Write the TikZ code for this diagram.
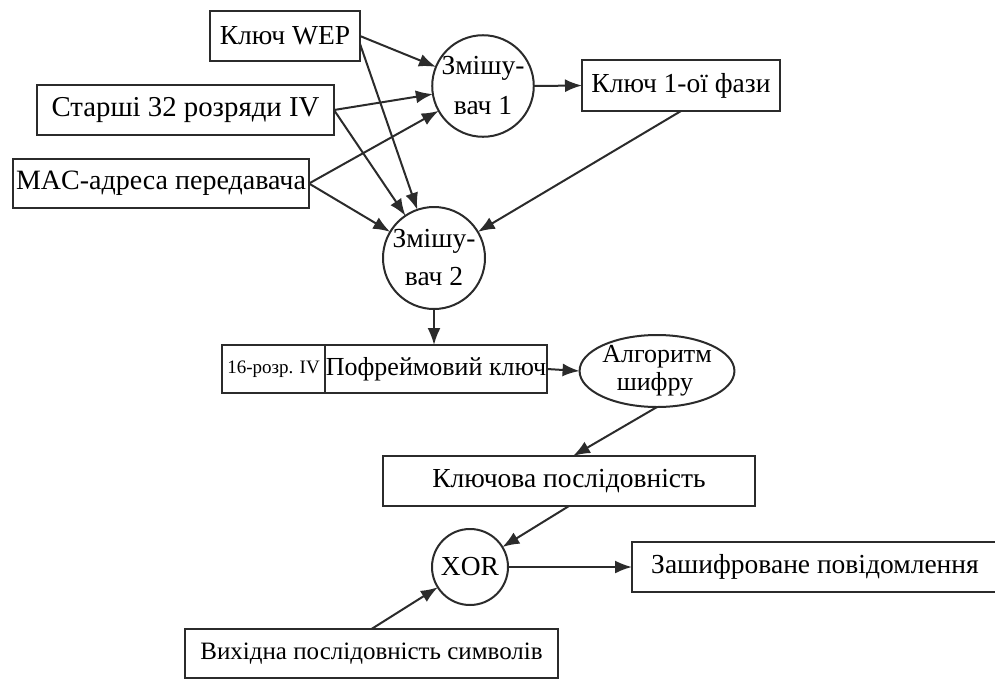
\documentclass[tikz,border=0pt]{standalone}
\usepackage{fontspec}
\setmainfont{Liberation Serif}
\usetikzlibrary{arrows.meta,shapes.geometric}
\definecolor{ink}{HTML}{2B2B2B}
\begin{document}
\begin{tikzpicture}[x=1pt,y=-1pt,
  every node/.style={font=\fontsize{27.5}{36}\selectfont, text=black},
  box/.style={draw=ink, line width=2pt, rectangle, inner sep=0pt, outer sep=0pt, align=center},
  mixer/.style={draw=ink, line width=2pt, circle, inner sep=0pt, outer sep=0pt, align=center},
  link/.style={draw=ink, line width=2pt, -{Latex[length=17pt,width=13pt]}},
]
\useasboundingbox (0,0) rectangle (995,680);

% inputs
\node[box, minimum width=150pt, minimum height=50pt] (wep) at (285,36) {Ключ WEP};
\node[box, minimum width=297pt, minimum height=50pt, font=\fontsize{28.8}{34}\selectfont] (msb) at (185.5,110) {Старші 32 розряди IV};
\node[box, minimum width=296pt, minimum height=49pt, font=\fontsize{28}{34}\selectfont] (mac) at (161,183.5) {MAC-адреса передавача};

% key mixing
\node[mixer, minimum size=100pt] (c1) at (483,86) {Змішу-\\[4pt]вач 1};
\node[box, minimum width=198pt, minimum height=51pt] (k1) at (681,85.5) {Ключ 1-ої фази};
\node[mixer, minimum size=102pt] (c2) at (434,258) {Змішу-\\[2pt]вач 2};

% per-frame key
\node[box, minimum width=103pt, minimum height=48pt, font=\fontsize{19}{22}\selectfont] (iv16) at (273.5,369) {16-розр. IV};
\node[box, minimum width=222pt, minimum height=48pt, font=\fontsize{26}{30}\selectfont] (frame) at (436,369) {Пофреймовий ключ};
\node[draw=ink, line width=2pt, ellipse, inner sep=0pt, outer sep=0pt, align=center,
      minimum width=150pt, minimum height=72pt, font=\fontsize{26}{28}\selectfont] (alg) at (657,371) {Алгоритм\\шифру\hspace*{4pt}};

% keystream and XOR
\node[box, minimum width=372pt, minimum height=50pt] (kseq) at (569,481) {Ключова послідовність};
\node[mixer, minimum size=76pt] (xor) at (470,567) {XOR};
\node[box, minimum width=366pt, minimum height=50pt] (enc) at (815,567) {Зашифроване повідомлення};
\node[box, minimum width=373pt, minimum height=49pt, font=\fontsize{25}{30}\selectfont] (src) at (371.5,653.5) {Вихідна послідовність символів};

% connectors
\draw[link] (wep.east) -- (c1);
\draw[link] (wep.-6) -- (c2);
\draw[link] (msb.east) -- (c1);
\draw[link] (msb.east) -- (c2);
\draw[link] (mac.east) -- (c1);
\draw[link] (mac.east) -- (c2);
\draw[link] (c1.east) -- (k1.west);
\draw[link] (k1.south) -- (c2);
\draw[link] (c2.south) -- (c2.south |- frame.north);
\draw[link] (frame.east) -- (alg.west);
\draw[link] (alg.south) -- ([xshift=4pt]kseq.north);
\draw[link] (kseq.south) -- (xor);
\draw[link] (xor) -- (enc);
\draw[link] (src.north) -- (xor);
\end{tikzpicture}
\end{document}
